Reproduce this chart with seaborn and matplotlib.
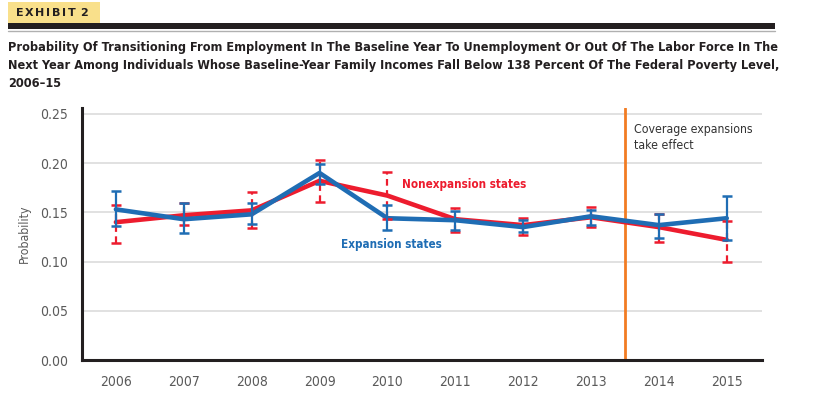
import numpy as np
import pandas as pd
import seaborn as sns
import matplotlib.pyplot as plt
from matplotlib.patches import Rectangle
from matplotlib.lines import Line2D
from matplotlib import font_manager

# values
years = [2006, 2007, 2008, 2009, 2010, 2011, 2012, 2013, 2014, 2015]
expansion = [0.153, 0.143, 0.148, 0.190, 0.144, 0.142, 0.135, 0.146, 0.137, 0.144]
expansion_lo = [0.136, 0.129, 0.138, 0.179, 0.132, 0.132, 0.130, 0.137, 0.124, 0.122]
expansion_hi = [0.172, 0.159, 0.159, 0.199, 0.157, 0.151, 0.142, 0.152, 0.148, 0.167]
nonexpansion = [0.140, 0.147, 0.152, 0.182, 0.167, 0.143, 0.137, 0.145, 0.135, 0.122]
nonexpansion_lo = [0.119, 0.137, 0.134, 0.161, 0.143, 0.130, 0.127, 0.135, 0.120, 0.100]
nonexpansion_hi = [0.157, 0.159, 0.171, 0.203, 0.191, 0.154, 0.144, 0.155, 0.148, 0.141]
yticks = [0.00, 0.05, 0.10, 0.15, 0.20, 0.25]

blue = '#1f6db4'
red = '#ed1c2e'
orange = '#f27c22'


def find_font(bold):
    # look for a narrow / condensed face among the installed files
    cands = []
    for f in font_manager.fontManager.ttflist:
        fn = f.fname.lower()
        if ('narrow' in fn or 'condensed' in fn) and 'oblique' not in fn and 'italic' not in fn:
            isbold = 'bold' in fn
            if isbold == bold:
                cands.append(f.fname)
    cands.sort(key=lambda p: ('liberation' not in p.lower(), p))
    if cands:
        return font_manager.FontProperties(fname=cands[0])
    return font_manager.FontProperties(family='DejaVu Sans', weight='bold' if bold else 'normal')


fp_reg = find_font(False)
fp_bold = find_font(True)

sns.set_style('white')
plt.rcParams['font.family'] = ['DejaVu Sans']

df = pd.DataFrame({
    'year': years * 2,
    'prob': expansion + nonexpansion,
    'group': ['Expansion states'] * len(years) + ['Nonexpansion states'] * len(years),
})

fig = plt.figure(figsize=(8.15, 4.09), dpi=100)
ax = fig.add_axes([0.1006, 0.1198, 0.8344, 0.6162])

sns.lineplot(data=df, x='year', y='prob', hue='group',
             hue_order=['Nonexpansion states', 'Expansion states'],
             palette={'Expansion states': blue, 'Nonexpansion states': red},
             linewidth=3.3, legend=False, ax=ax, zorder=3)

# error bars
ne = np.array(nonexpansion)
eb = ax.errorbar(years, ne, yerr=[ne - np.array(nonexpansion_lo), np.array(nonexpansion_hi) - ne],
                 fmt='none', ecolor=red, elinewidth=1.6, capsize=3.8, capthick=1.8, zorder=4)
eb[2][0].set_linestyle((0, (3, 2)))
ex = np.array(expansion)
ax.errorbar(years, ex, yerr=[ex - np.array(expansion_lo), np.array(expansion_hi) - ex],
            fmt='none', ecolor=blue, elinewidth=1.6, capsize=3.8, capthick=1.8, zorder=5)

ax.axvline(2013.5, color=orange, linewidth=2, zorder=2)

ax.set_xlim(2005.5, 2015.52)
ax.set_ylim(0, 0.256)
ax.set_yticks(yticks)
ax.set_yticklabels([f'{v:.2f}' for v in yticks])
ax.set_xticks(years)
ax.set_xticklabels([str(y) for y in years])
ax.set_xticks([2005.5], minor=True)
ax.grid(axis='y', color='#dcdcdc', linewidth=1.2, zorder=0)
ax.set_axisbelow(True)
for s in ['top', 'right']:
    ax.spines[s].set_visible(False)
for s in ['left', 'bottom']:
    ax.spines[s].set_linewidth(2.2)
    ax.spines[s].set_color('#231f20')
ax.tick_params(axis='both', which='both', direction='out', color='#231f20', width=2, labelcolor='#5a5a5a')
ax.tick_params(axis='y', length=7, pad=3)
ax.tick_params(axis='x', which='both', length=6, pad=5)
for lab in ax.get_xticklabels() + ax.get_yticklabels():
    lab.set_fontproperties(fp_reg)
    lab.set_fontsize(10)
ax.set_xlabel('')
ax.set_ylabel('Probability', color='#5a5a5a', fontproperties=fp_reg, fontsize=8.8, labelpad=7)

ax.text(2010.21, 0.1778, 'Nonexpansion states', color=red, fontproperties=fp_bold, fontsize=8.4,
        va='center')
ax.text(2009.32, 0.1169, 'Expansion states', color=blue, fontproperties=fp_bold, fontsize=8.4,
        va='center')
ax.text(2013.64, 0.2261, 'Coverage expansions\ntake effect', color='#333333', fontproperties=fp_reg,
        fontsize=8.8, va='center', linespacing=1.3)

# header
fig.patches.append(Rectangle((8 / 815, 1 - 24 / 409), 92 / 815, 22 / 409, transform=fig.transFigure,
                             facecolor='#f9e08b', edgecolor='none'))
# letter-spaced label, one glyph at a time
renderer = fig.canvas.get_renderer()
xpos = 16.0
for ch in 'EXHIBIT 2':
    if ch == ' ':
        xpos += 3.0
        continue
    t = fig.text(xpos / 815, 1 - 13 / 409, ch, fontsize=8, fontweight='bold', fontfamily='DejaVu Sans',
                 color='#231f20', va='center', ha='left')
    xpos += t.get_window_extent(renderer).width + 1.6
fig.patches.append(Rectangle((8 / 815, 1 - 29 / 409), 767 / 815, 5.5 / 409, transform=fig.transFigure,
                             facecolor='#231f20', edgecolor='none'))
fig.lines.append(Line2D([8 / 815, 775 / 815], [1 - 31 / 409] * 2, transform=fig.transFigure,
                        color='#b0b0b0', linewidth=1))

title = ('Probability Of Transitioning From Employment In The Baseline Year To Unemployment Or Out Of The Labor Force In The\n'
         'Next Year Among Individuals Whose Baseline-Year Family Incomes Fall Below 138 Percent Of The Federal Poverty Level,\n'
         '2006\u201315')
fig.text(8 / 815, 1 - 41 / 409, title, fontproperties=fp_bold, fontsize=9.1,
         color='#231f20', va='top', ha='left', linespacing=1.5)

fig.savefig('out.png', dpi=100)
